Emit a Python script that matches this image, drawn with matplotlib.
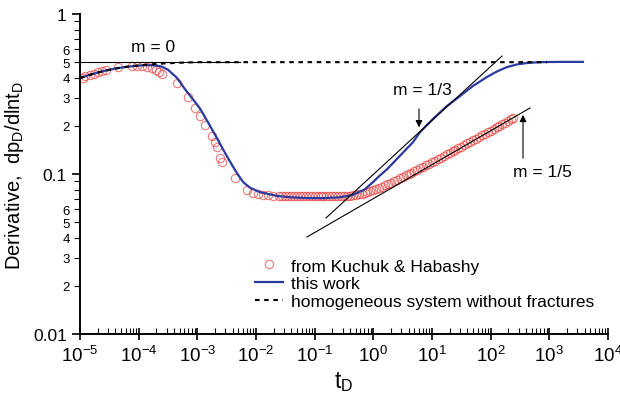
import numpy as np
import matplotlib
matplotlib.use("Agg")
import matplotlib.pyplot as plt
from matplotlib.ticker import LogLocator, FuncFormatter, NullFormatter

plt.rcParams['font.family'] = ['Liberation Sans', 'DejaVu Sans']
plt.rcParams['mathtext.fontset'] = 'custom'
plt.rcParams['mathtext.rm'] = 'Liberation Sans'
plt.rcParams['mathtext.it'] = 'Liberation Sans:italic'

# data (log10 of tD, derivative)
kh_logt = [-4.949, -4.915, -4.830, -4.761, -4.693, -4.625, -4.557, -4.352, -4.114, -4.028,
           -3.943, -3.858, -3.773, -3.705, -3.653, -3.602, -3.347, -3.159, -3.040, -2.955,
           -2.869, -2.750, -2.699, -2.665, -2.614, -2.580, -2.358, -2.154, -2.051, -1.966,
           -1.881, -1.796, -1.710,
           -1.60, -1.55, -1.50, -1.45, -1.40, -1.35, -1.30, -1.25, -1.20, -1.15, -1.10,
           -1.05, -1.00, -0.95, -0.90, -0.85, -0.80, -0.75, -0.70, -0.65, -0.60, -0.55,
           -0.50, -0.45, -0.40, -0.35, -0.30, -0.25, -0.20, -0.15, -0.10, -0.05,
           0.00, 0.05, 0.10, 0.15, 0.20, 0.25, 0.30, 0.35, 0.40, 0.45, 0.50, 0.55, 0.60,
           0.65, 0.70, 0.75, 0.80, 0.85, 0.90, 0.95, 1.00, 1.05, 1.10, 1.15, 1.20, 1.25,
           1.30, 1.35, 1.40, 1.45, 1.50, 1.55, 1.60, 1.65, 1.70, 1.75, 1.80, 1.85, 1.90,
           1.95, 2.00, 2.05, 2.10, 2.15, 2.20, 2.25, 2.30, 2.35, 2.38]
kh_val = [0.398, 0.410, 0.416, 0.422, 0.434, 0.440, 0.447, 0.466, 0.473, 0.473,
          0.473, 0.466, 0.460, 0.447, 0.434, 0.422, 0.371, 0.303, 0.259, 0.230,
          0.202, 0.173, 0.158, 0.1475, 0.126, 0.119, 0.0944, 0.0794, 0.076, 0.075,
          0.074, 0.074, 0.0729,
          0.0729, 0.0728, 0.0727, 0.0726, 0.0726, 0.0725, 0.0725, 0.0724, 0.0724, 0.0724, 0.0724,
          0.0724, 0.0724, 0.0725, 0.0725, 0.0726, 0.0726, 0.0727, 0.0727, 0.0728, 0.0728, 0.0729,
          0.0729, 0.0730, 0.0733, 0.0737, 0.0742, 0.0748, 0.0755, 0.0763, 0.0772, 0.0782,
          0.0794, 0.0806, 0.0819, 0.0833, 0.0848, 0.0864, 0.0882, 0.0901, 0.0920, 0.0939,
          0.0959, 0.0979, 0.0999, 0.1020, 0.1042, 0.1063, 0.1086, 0.1109, 0.1132, 0.1156,
          0.1180, 0.1208, 0.1236, 0.1264, 0.1294, 0.1324, 0.1355, 0.1386, 0.1418, 0.1451,
          0.1485, 0.1520, 0.1555, 0.1591, 0.1628, 0.1666, 0.1705, 0.1745, 0.1785, 0.1827,
          0.1869, 0.1913, 0.1957, 0.2003, 0.2049, 0.2097, 0.2146, 0.2196, 0.224]

work_logt = [-5.00, -4.80, -4.60, -4.40, -4.20, -4.00, -3.85, -3.70, -3.60, -3.50, -3.35,
             -3.20, -3.05, -2.95, -2.80, -2.66, -2.55, -2.44, -2.33, -2.22, -2.10, -1.93,
             -1.64, -1.40, -1.13, -0.85, -0.57, -0.35, -0.15, -0.006, 0.10, 0.233, 0.454,
             0.676, 0.795, 1.017, 1.255, 1.477, 1.698, 1.937, 2.10, 2.278, 2.45, 2.619,
             2.80, 2.96, 3.20, 3.573]
work_val = [0.398, 0.420, 0.440, 0.456, 0.468, 0.476, 0.479, 0.477, 0.468, 0.448, 0.400,
            0.335, 0.285, 0.255, 0.205, 0.166, 0.140, 0.119, 0.102, 0.089, 0.082, 0.077,
            0.0729, 0.0715, 0.0707, 0.0707, 0.0715, 0.0740, 0.080, 0.089, 0.097, 0.107, 0.130,
            0.158, 0.1825, 0.221, 0.266, 0.307, 0.355, 0.404, 0.436, 0.466, 0.484, 0.494,
            0.499, 0.501, 0.502, 0.502]

homog_logt = [-5.00, -4.80, -4.60, -4.40, -4.20, -4.00, -3.80, -3.60, -3.30, -3.00, 2.96]
homog_val = [0.398, 0.420, 0.440, 0.456, 0.468, 0.477, 0.484, 0.490, 0.496, 0.500, 0.500]

# straight-line guides (endpoints)
m0_t = [1e-5, 5.4e-3]
m0_v = [0.5, 0.5]
m13_t = [0.156, 156.0]
m13_v = [0.0531, 0.546]
m15_t = [0.074, 468.0]
m15_v = [0.0404, 0.2585]

fig = plt.figure(figsize=(6.2, 4.06), dpi=100)
ax = fig.add_axes([80/620, 71/406, 528/620, 320/406])

ax.plot(10**np.array(kh_logt), kh_val, 'o', ms=6.0, mfc='none', mec='#e8423f',
        mew=0.8, alpha=0.7, label='from Kuchuk & Habashy')
ax.plot(10**np.array(work_logt), work_val, '-', color='#2b3a9e', lw=1.6, label='this work')
ax.plot(10**np.array(homog_logt), homog_val, '--', color='black', lw=1.5,
        dashes=(2.2, 2.2), label='homogeneous system without fractures')

ax.plot(m0_t, m0_v, color='black', lw=0.8)
ax.plot(m13_t, m13_v, color='black', lw=0.8)
ax.plot(m15_t, m15_v, color='black', lw=0.8)

ax.text(1.75e-4, 0.63, 'm = 0', fontsize=12.5, ha='center', va='center')
ax.text(6.75, 0.335, 'm = 1/3', fontsize=12.5, ha='center', va='center')
ax.text(776, 0.1044, 'm = 1/5', fontsize=12.5, ha='center', va='center')
ax.annotate('', xy=(6.0, 0.188), xytext=(6.0, 0.266),
            arrowprops=dict(arrowstyle='-|>', color='black', lw=0.8, mutation_scale=10))
ax.annotate('', xy=(356, 0.244), xytext=(356, 0.1206),
            arrowprops=dict(arrowstyle='-|>', color='black', lw=0.8, mutation_scale=10))

ax.set_xscale('log')
ax.set_yscale('log')
ax.set_xlim(1e-5, 1e4)
ax.set_ylim(0.01, 1)

for s in ['top', 'right']:
    ax.spines[s].set_visible(False)
for s in ['left', 'bottom']:
    ax.spines[s].set_linewidth(1.4)

ax.xaxis.set_major_locator(LogLocator(base=10, numticks=12))
ax.xaxis.set_minor_locator(LogLocator(base=10, subs=np.arange(2, 10), numticks=12))
ax.xaxis.set_minor_formatter(NullFormatter())
ax.xaxis.set_major_formatter(FuncFormatter(
    lambda v, p: r'$\mathregular{10^{%d}}$' % int(round(np.log10(v)))))

ax.yaxis.set_major_locator(LogLocator(base=10, numticks=5))
ax.yaxis.set_minor_locator(LogLocator(base=10, subs=np.arange(2, 10), numticks=5))
ax.yaxis.set_major_formatter(FuncFormatter(lambda v, p: '%g' % v))


def minor_label(v, p):
    d = int(round(v / 10**np.floor(np.log10(v) + 1e-9)))
    return str(d) if 2 <= d <= 6 else ''


ax.yaxis.set_minor_formatter(FuncFormatter(minor_label))

ax.tick_params(axis='x', which='major', direction='inout', length=8, width=1.2,
               labelsize=13.5, pad=4)
ax.tick_params(axis='x', which='minor', direction='in', length=4, width=0.8)
ax.tick_params(axis='y', which='major', direction='out', length=6, width=1.2,
               labelsize=12.5)
ax.tick_params(axis='y', which='minor', direction='out', length=4, width=0.8,
               labelsize=9.5)

ax.set_xlabel(r't$_\mathregular{D}$', fontsize=16.5, labelpad=3)
ax.set_ylabel(r'Derivative,  dp$_\mathregular{D}$/dlnt$_\mathregular{D}$', fontsize=14.5,
              labelpad=5)

ax.legend(loc='upper left', bbox_to_anchor=(0.318, 0.258), frameon=False, fontsize=12.5,
          numpoints=1, handlelength=1.6, handletextpad=0.5, labelspacing=0.15,
          borderaxespad=0)

fig.savefig('out.png', dpi=100)
